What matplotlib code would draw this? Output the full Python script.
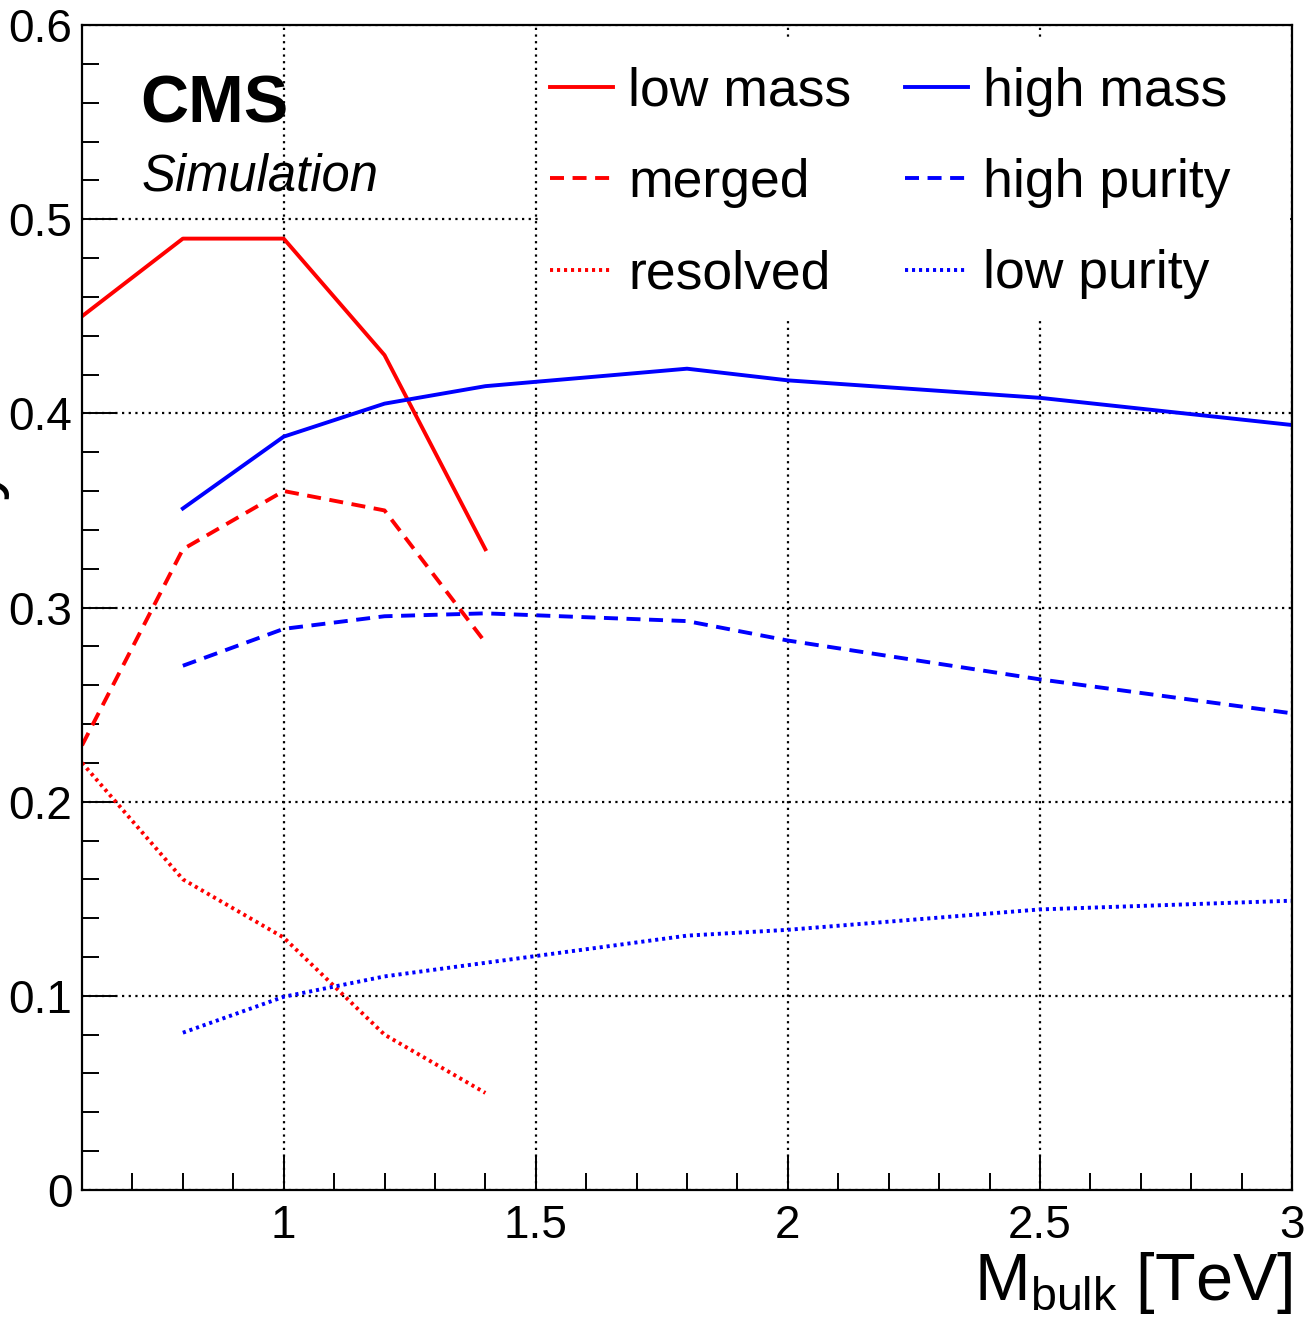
import matplotlib
matplotlib.use('Agg')
import matplotlib.pyplot as plt
from matplotlib.ticker import MultipleLocator
from matplotlib.patches import Rectangle

plt.rcParams['font.family'] = ['Liberation Sans', 'DejaVu Sans']
plt.rcParams['mathtext.fontset'] = 'custom'
plt.rcParams['mathtext.rm'] = 'Liberation Sans'
plt.rcParams['mathtext.default'] = 'regular'

# resonance mass points [TeV]
mass_low = [0.6, 0.8, 1.0, 1.2, 1.4]
mass_high = [0.8, 1.0, 1.2, 1.4, 1.8, 2.0, 2.5, 3.0]

# low mass analysis efficiencies
low_mass = [0.45, 0.49, 0.49, 0.43, 0.33]
merged = [0.229, 0.33, 0.36, 0.35, 0.282]
resolved = [0.22, 0.16, 0.13, 0.08, 0.05]

# high mass analysis efficiencies
high_mass = [0.351, 0.388, 0.405, 0.414, 0.423, 0.417, 0.408, 0.394]
high_purity = [0.270, 0.289, 0.2955, 0.297, 0.293, 0.283, 0.263, 0.2455]
low_purity = [0.081, 0.0995, 0.110, 0.117, 0.131, 0.134, 0.1445, 0.149]

fig = plt.figure(figsize=(13.04, 13.25), dpi=100)
ax = fig.add_axes([0.0629, 0.1019, 0.9279, 0.8792])

lw = 2.8
dash = (0, (3.6, 2.2))
dot = (0, (0.8, 1.0))
ax.plot(mass_low, low_mass, color='#ff0000', lw=lw, label='low mass')
ax.plot(mass_low, merged, color='#ff0000', lw=lw, ls=dash, label='merged')
ax.plot(mass_low, resolved, color='#ff0000', lw=lw, ls=dot, label='resolved')
ax.plot(mass_high, high_mass, color='#0000ff', lw=lw, label='high mass')
ax.plot(mass_high, high_purity, color='#0000ff', lw=lw, ls=dash, label='high purity')
ax.plot(mass_high, low_purity, color='#0000ff', lw=lw, ls=dot, label='low purity')

ax.set_xlim(0.6, 3.0)
ax.set_ylim(0, 0.6)
ax.xaxis.set_minor_locator(MultipleLocator(0.1))
ax.yaxis.set_minor_locator(MultipleLocator(0.02))
ax.set_xticks([1, 1.5, 2, 2.5, 3])
ax.set_xticklabels(['1', '1.5', '2', '2.5', '3'])
ax.set_yticks([0, 0.1, 0.2, 0.3, 0.4, 0.5, 0.6])
ax.set_yticklabels(['0', '0.1', '0.2', '0.3', '0.4', '0.5', '0.6'])

ax.tick_params(which='both', direction='in', top=False, right=False, width=1.4,
               labelsize=33)
ax.tick_params(which='major', length=25)
ax.tick_params(which='minor', length=12)
ax.tick_params(axis='x', pad=10)
ax.tick_params(axis='y', pad=7)
for s in ax.spines.values():
    s.set_linewidth(1.6)

ax.set_axisbelow(True)
ax.grid(True, which='major', color='black', lw=1.6, ls=(0, (1, 2)))

# white legend box hiding the grid
ax.add_patch(Rectangle((0.378, 0.7485), 0.6205, 0.2403, transform=ax.transAxes,
                       facecolor='white', edgecolor='none', zorder=1))

ax.legend(loc='upper left', bbox_to_anchor=(0.3868, 0.9643), ncol=2,
          frameon=False, fontsize=38.5, borderpad=0, borderaxespad=0,
          handlelength=1.18, handletextpad=0.28, columnspacing=1.01,
          labelspacing=0.774)

ax.text(0.048, 0.916, 'CMS', transform=ax.transAxes, fontsize=48,
        fontweight='bold', va='baseline', ha='left')
ax.text(0.0496, 0.858, 'Simulation', transform=ax.transAxes, fontsize=36.5,
        fontstyle='italic', va='baseline', ha='left')

ax.set_xlabel(r'M$_{bulk}$ [TeV]', fontsize=48, ha='right')
ax.xaxis.set_label_coords(1.0, -0.0513)
ax.set_ylabel('Efficiency', fontsize=50)
ax.yaxis.set_label_coords(-0.0646, 0.5)

fig.savefig('out.png', dpi=100)
